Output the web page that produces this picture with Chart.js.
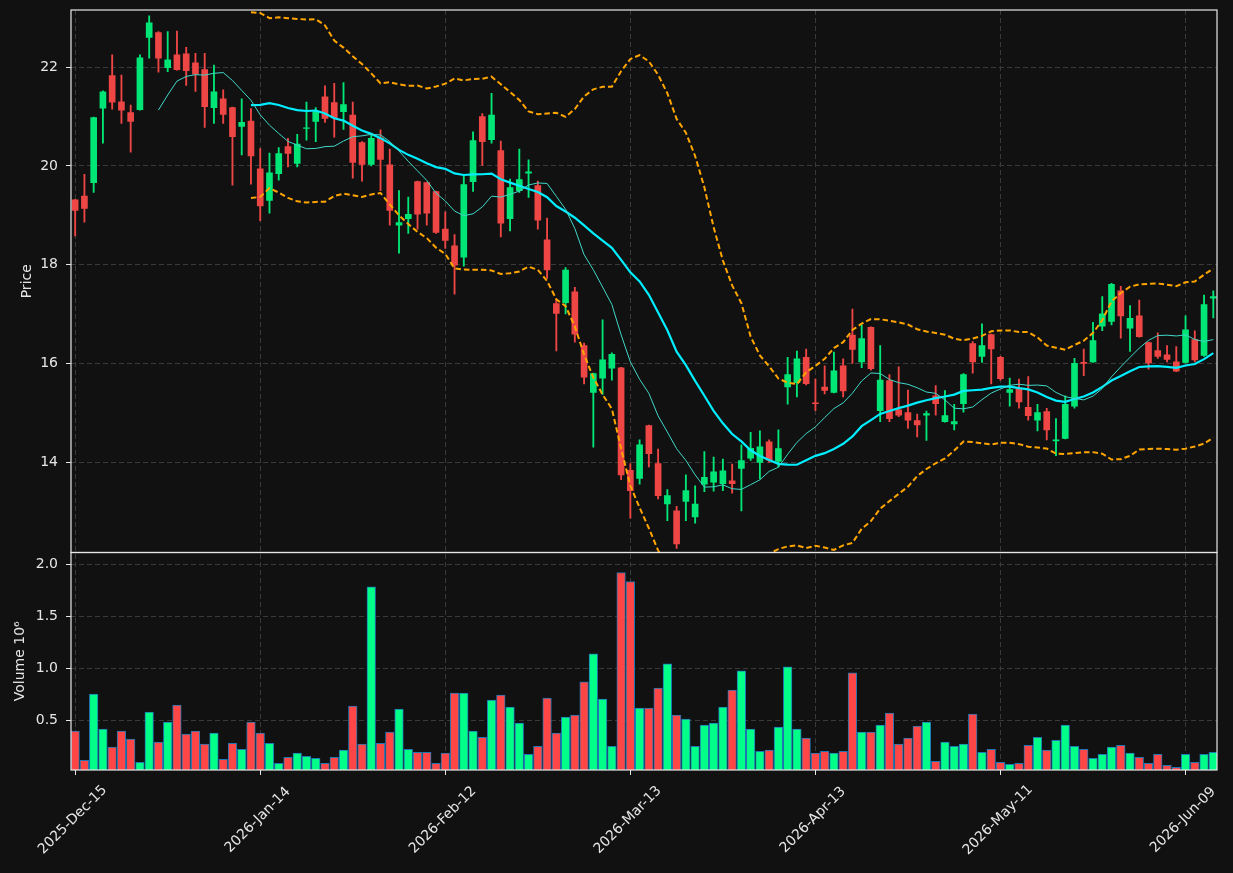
<!DOCTYPE html>
<html>
<head>
<meta charset="utf-8">
<script src="https://cdn.jsdelivr.net/npm/chart.js@4.4.1/dist/chart.umd.min.js"></script>
<style>
  html, body { margin: 0; padding: 0; background: #111111; }
  canvas { display: block; }
</style>
</head>
<body>
<canvas id="koers" width="1233" height="873"></canvas>
<script>
// koersdata per handelsdag, index 0 = 2025-Dec-15
let opens = [19.31, 19.39, 19.66, 21.17, 21.83, 21.30, 21.08, 21.14, 22.60, 22.70,
  21.99, 22.25, 22.27, 22.09, 21.95, 21.18, 21.36, 21.18, 20.80, 20.91,
  19.94, 19.30, 19.84, 20.39, 20.05, 20.76, 20.90, 21.40, 21.28, 21.10,
  21.03, 20.47, 20.03, 20.57, 20.02, 18.80, 18.93, 19.68, 19.66, 19.48,
  18.72, 18.38, 18.15, 19.68, 21.00, 20.53, 20.31, 18.93, 19.50, 19.85,
  19.60, 18.50, 17.21, 17.23, 17.45, 16.36, 15.41, 15.70, 15.90, 15.91,
  13.83, 13.67, 14.74, 13.97, 13.15, 13.01, 13.20, 12.89, 13.55, 13.59,
  13.56, 13.62, 13.87, 14.08, 13.99, 14.41, 14.01, 15.52, 15.61, 16.12,
  15.20, 15.52, 15.41, 15.95, 16.57, 16.03, 16.73, 15.04, 15.65, 15.06,
  15.00, 14.84, 14.95, 15.34, 14.82, 14.77, 15.18, 16.40, 16.14, 16.58,
  16.12, 15.41, 15.50, 15.11, 14.85, 15.02, 14.43, 14.48, 15.13, 16.02,
  16.03, 16.75, 16.85, 17.47, 16.71, 16.96, 16.42, 16.26, 16.17, 16.03,
  16.02, 16.48, 16.16, 17.32] // openingskoersen

let highs = [19.32, 19.83, 20.99, 21.52, 22.25, 21.84, 21.23, 22.25, 23.04, 22.72,
  22.72, 22.73, 22.40, 22.28, 22.28, 22.04, 21.54, 21.19, 21.36, 21.16,
  20.35, 20.26, 20.37, 20.56, 20.64, 21.29, 21.18, 21.62, 21.67, 21.69,
  21.29, 20.49, 20.64, 20.73, 20.34, 19.50, 19.37, 19.69, 19.67, 19.49,
  19.07, 18.61, 19.80, 20.69, 21.06, 21.47, 20.50, 19.73, 20.34, 20.12,
  19.69, 18.94, 17.30, 17.94, 17.54, 16.41, 15.80, 16.88, 16.21, 15.92,
  13.97, 14.45, 14.75, 14.26, 13.44, 13.10, 13.74, 13.52, 14.21, 14.10,
  14.06, 13.96, 14.35, 14.60, 14.63, 14.45, 14.65, 16.12, 16.25, 16.29,
  15.68, 15.95, 16.23, 16.09, 17.10, 16.78, 16.74, 16.36, 15.77, 15.93,
  15.46, 14.97, 15.03, 15.55, 15.45, 15.17, 15.79, 16.44, 16.80, 16.59,
  16.14, 15.70, 15.68, 15.73, 15.17, 15.09, 14.88, 15.34, 16.10, 16.29,
  16.83, 17.35, 17.62, 17.56, 17.17, 17.28, 16.43, 16.62, 16.36, 16.34,
  16.96, 16.66, 17.38, 17.47] // dagelijkse hoogste koers

let lows = [18.58, 18.86, 19.46, 20.46, 21.15, 20.86, 20.28, 21.13, 22.18, 21.90,
  21.91, 21.94, 21.63, 21.51, 20.78, 20.86, 20.86, 19.61, 20.22, 19.63,
  18.89, 19.04, 19.71, 19.98, 19.98, 20.52, 20.49, 20.88, 20.58, 20.74,
  19.75, 19.69, 20.00, 19.50, 18.80, 18.23, 18.63, 18.72, 18.80, 18.63,
  18.33, 17.40, 17.97, 19.48, 20.01, 20.46, 18.56, 18.68, 19.46, 19.36,
  18.72, 17.72, 16.25, 17.00, 16.43, 15.58, 14.30, 15.37, 15.66, 13.64,
  12.86, 13.55, 13.90, 13.25, 12.81, 12.25, 12.81, 12.76, 13.40, 13.41,
  13.42, 13.37, 13.01, 14.03, 13.66, 13.99, 13.90, 15.17, 15.32, 15.56,
  15.04, 15.38, 15.40, 15.32, 16.00, 15.91, 15.86, 14.82, 14.82, 14.92,
  14.68, 14.51, 14.44, 14.95, 14.81, 14.65, 15.01, 15.80, 16.02, 15.58,
  15.66, 15.13, 15.09, 14.85, 14.63, 14.45, 14.13, 14.47, 15.09, 15.75,
  16.02, 16.66, 16.78, 16.51, 16.24, 16.53, 15.88, 16.10, 16.03, 15.83,
  16.01, 16.03, 16.14, 16.92] // dagelijkse laagste koers

let closes = [19.10, 19.14, 20.98, 21.50, 21.29, 21.13, 20.90, 22.19, 22.90, 22.18,
  22.15, 21.95, 21.93, 21.86, 21.20, 21.50, 21.04, 20.59, 20.88, 20.20,
  19.19, 19.86, 20.25, 20.25, 20.44, 20.77, 21.10, 20.96, 20.97, 21.24,
  20.07, 20.03, 20.56, 20.13, 19.10, 18.85, 19.02, 19.02, 19.04, 18.65,
  18.49, 17.99, 19.62, 20.51, 20.49, 21.03, 18.84, 19.56, 19.72, 19.88,
  18.90, 17.89, 17.01, 17.89, 16.59, 15.72, 15.79, 16.07, 16.18, 13.74,
  13.42, 14.35, 14.17, 13.32, 13.32, 12.34, 13.42, 13.15, 13.69, 13.80,
  13.82, 13.56, 14.03, 14.28, 14.31, 14.04, 14.27, 15.77, 16.09, 15.59,
  15.18, 15.45, 15.85, 15.44, 16.28, 16.50, 15.89, 15.66, 14.88, 14.95,
  14.85, 14.75, 14.98, 15.18, 14.94, 14.82, 15.77, 16.03, 16.36, 16.29,
  15.69, 15.47, 15.22, 14.94, 15.00, 14.65, 14.45, 15.17, 16.00, 16.00,
  16.46, 17.00, 17.60, 16.96, 16.91, 16.54, 16.01, 16.14, 16.08, 15.84,
  16.68, 16.07, 17.19, 17.35] // slotkoersen

let volumes = [0.394, 0.113, 0.752, 0.413, 0.239, 0.394, 0.316, 0.094, 0.577, 0.287,
  0.481, 0.645, 0.365, 0.394, 0.268, 0.374, 0.123, 0.277, 0.219, 0.481,
  0.374, 0.277, 0.084, 0.142, 0.181, 0.152, 0.132, 0.084, 0.142, 0.210,
  0.635, 0.268, 1.784, 0.277, 0.384, 0.606, 0.219, 0.190, 0.190, 0.084,
  0.181, 0.761, 0.761, 0.394, 0.335, 0.694, 0.742, 0.626, 0.471, 0.171,
  0.248, 0.713, 0.374, 0.529, 0.548, 0.868, 1.139, 0.703, 0.248, 1.923,
  1.835, 0.616, 0.616, 0.810, 1.042, 0.548, 0.510, 0.248, 0.452, 0.471,
  0.626, 0.790, 0.974, 0.413, 0.200, 0.210, 0.432, 1.013, 0.413, 0.326,
  0.181, 0.200, 0.181, 0.200, 0.955, 0.384, 0.384, 0.452, 0.568, 0.268,
  0.326, 0.442, 0.481, 0.103, 0.287, 0.248, 0.268, 0.558, 0.190, 0.219,
  0.094, 0.074, 0.084, 0.258, 0.335, 0.210, 0.306, 0.452, 0.248, 0.219,
  0.132, 0.171, 0.239, 0.258, 0.181, 0.142, 0.084, 0.171, 0.065, 0.045,
  0.171, 0.094, 0.171, 0.190] // volume in miljoenen

let tickPos = [0, 20, 40, 60, 80, 100, 120] // handelsdag-index van de datumlabels
let tickLabels = ['2025-Dec-15', '2026-Jan-14', '2026-Feb-12', '2026-Mar-13', '2026-Apr-13', '2026-May-11', '2026-Jun-09']
let priceTicks = [14, 16, 18, 20, 22]
let volTicks = [0.5, 1.0, 1.5, 2.0]

// gemiddelde over n dagen (null zolang er te weinig dagen zijn)
function sma(values, n) {
  return values.map((v, i) => i < n - 1 ? null : values.slice(i - n + 1, i + 1).reduce((a, b) => a + b, 0) / n)
}
// bollinger band: gemiddelde + k * standaardafwijking
function band(values, n, k) {
  let mid = sma(values, n)
  return values.map((v, i) => {
    if (mid[i] === null) return null
    let win = values.slice(i - n + 1, i + 1)
    let sd = Math.sqrt(win.reduce((a, b) => a + (b - mid[i]) ** 2, 0) / n)
    return mid[i] + k * sd
  })
}
let toPoints = arr => arr.map((v, i) => ({x: i, y: v})).filter(p => p.y !== null)

let up = '#00e676', down = '#ee4545'
let candleColors = closes.map((c, i) => c >= opens[i] ? up : down)
let volColors = closes.map((c, i) => c >= opens[i] ? '#00ff88' : '#ff4646')

let font = '"DejaVu Sans", sans-serif'

// frame, datumlabels en astitels
let panelen = {
  id: 'panelen',
  beforeDraw(chart) {
    let ctx = chart.ctx
    ctx.save()
    ctx.fillStyle = '#111111'
    ctx.fillRect(0, 0, chart.width, chart.height)
    ctx.restore()
  },
  afterDraw(chart) {
    let {ctx, chartArea, scales} = chart
    ctx.save()
    ctx.strokeStyle = '#e8e8e8'
    ctx.lineWidth = 1.2
    ;[scales.y, scales.yv].forEach(s => {
      ctx.strokeRect(chartArea.left, s.top, chartArea.right - chartArea.left, s.bottom - s.top)
    })
    ctx.fillStyle = '#e6e6e6'
    ctx.font = '14px ' + font
    ctx.textAlign = 'center'
    ctx.textBaseline = 'middle'
    tickPos.forEach((p, i) => {
      let x = scales.x.getPixelForValue(p)
      ctx.save()
      ctx.translate(x - 2.5, 820)
      ctx.rotate(-Math.PI / 4)
      ctx.fillText(tickLabels[i], 0, 0)
      ctx.restore()
    })
    let titel = (text, x, y) => {
      ctx.save()
      ctx.translate(x, y)
      ctx.rotate(-Math.PI / 2)
      ctx.fillText(text, 0, 0)
      ctx.restore()
    }
    titel('Price', 27, (scales.y.top + scales.y.bottom) / 2)
    titel('Volume 10\u2076', 20, (scales.yv.top + scales.yv.bottom) / 2)
    ctx.restore()
  }
}

let gridOpts = {color: '#3a3a3a', tickColor: '#e6e6e6', tickLength: 5, tickBorderDash: [], lineWidth: 1, offset: false}
let borderOpts = {display: false, dash: [5, 3]}

// vaste breedte voor de y-as, geen extra ruimte voor labels boven/onder
let fitY = s => {
  s.width = 71
  s.paddingTop = 0
  s.paddingBottom = 0
}

let myChart = document.getElementById('koers').getContext('2d')

let chart = new Chart(myChart, {
  type: 'bar',
  data: {
    datasets: [
      { // 10-daags gemiddelde
        type: 'line', data: toPoints(sma(closes, 10)), yAxisID: 'y',
        borderColor: '#40d8c8', borderWidth: 1, pointRadius: 0, order: 0
      },
      { // 20-daags gemiddelde
        type: 'line', data: toPoints(sma(closes, 20)), yAxisID: 'y',
        borderColor: '#00eeff', borderWidth: 2.2, pointRadius: 0, order: 0
      },
      { // bovenband
        type: 'line', data: toPoints(band(closes, 20, 2)), yAxisID: 'y',
        borderColor: '#ffa500', borderWidth: 2, borderDash: [5.5, 3], pointRadius: 0, order: 0
      },
      { // onderband
        type: 'line', data: toPoints(band(closes, 20, -2)), yAxisID: 'y',
        borderColor: '#ffa500', borderWidth: 2, borderDash: [5.5, 3], pointRadius: 0, order: 0
      },
      { // candle body
        data: closes.map((c, i) => ({x: i, y: [opens[i], c]})), yAxisID: 'y',
        backgroundColor: candleColors, barThickness: 6, grouped: false, order: 1
      },
      { // lonten
        data: closes.map((c, i) => ({x: i, y: [lows[i], highs[i]]})), yAxisID: 'y',
        backgroundColor: candleColors, barThickness: 1.2, grouped: false, order: 2
      },
      { // volume
        data: volumes.map((v, i) => ({x: i, y: v})), yAxisID: 'yv',
        backgroundColor: volColors, borderColor: '#1f77b4', borderWidth: 1,
        barThickness: 8.6, grouped: false, order: 3
      }
    ]
  },
  options: {
    responsive: false,
    animation: false,
    devicePixelRatio: 1,
    layout: {padding: {left: 0, top: 10, right: 16, bottom: 0}},
    plugins: {legend: {display: false}, tooltip: {enabled: false}},
    scales: {
      x: {
        type: 'linear', min: -0.45, max: 123.4, offset: false,
        grid: gridOpts, border: borderOpts,
        ticks: {display: false},
        afterBuildTicks: s => { s.ticks = tickPos.map(v => ({value: v})) },
        afterFit: s => { s.height = 103; s.paddingLeft = 0; s.paddingRight = 0 }
      },
      y: {
        position: 'left', stack: 'panelen', stackWeight: 542.5, weight: 1,
        min: 12.167, max: 23.158,
        grid: gridOpts, border: borderOpts,
        ticks: {color: '#e6e6e6', font: {family: font, size: 14}, padding: 8, callback: v => String(v)},
        afterBuildTicks: s => { s.ticks = priceTicks.map(v => ({value: v})) },
        afterFit: fitY
      },
      yv: {
        position: 'left', stack: 'panelen', stackWeight: 217.5, weight: 0,
        min: 0.019, max: 2.116,
        grid: gridOpts, border: borderOpts,
        ticks: {color: '#e6e6e6', font: {family: font, size: 14}, padding: 8, callback: v => v.toFixed(1)},
        afterBuildTicks: s => { s.ticks = volTicks.map(v => ({value: v})) },
        afterFit: fitY
      }
    }
  },
  plugins: [panelen]
});
</script>
</body>
</html>
